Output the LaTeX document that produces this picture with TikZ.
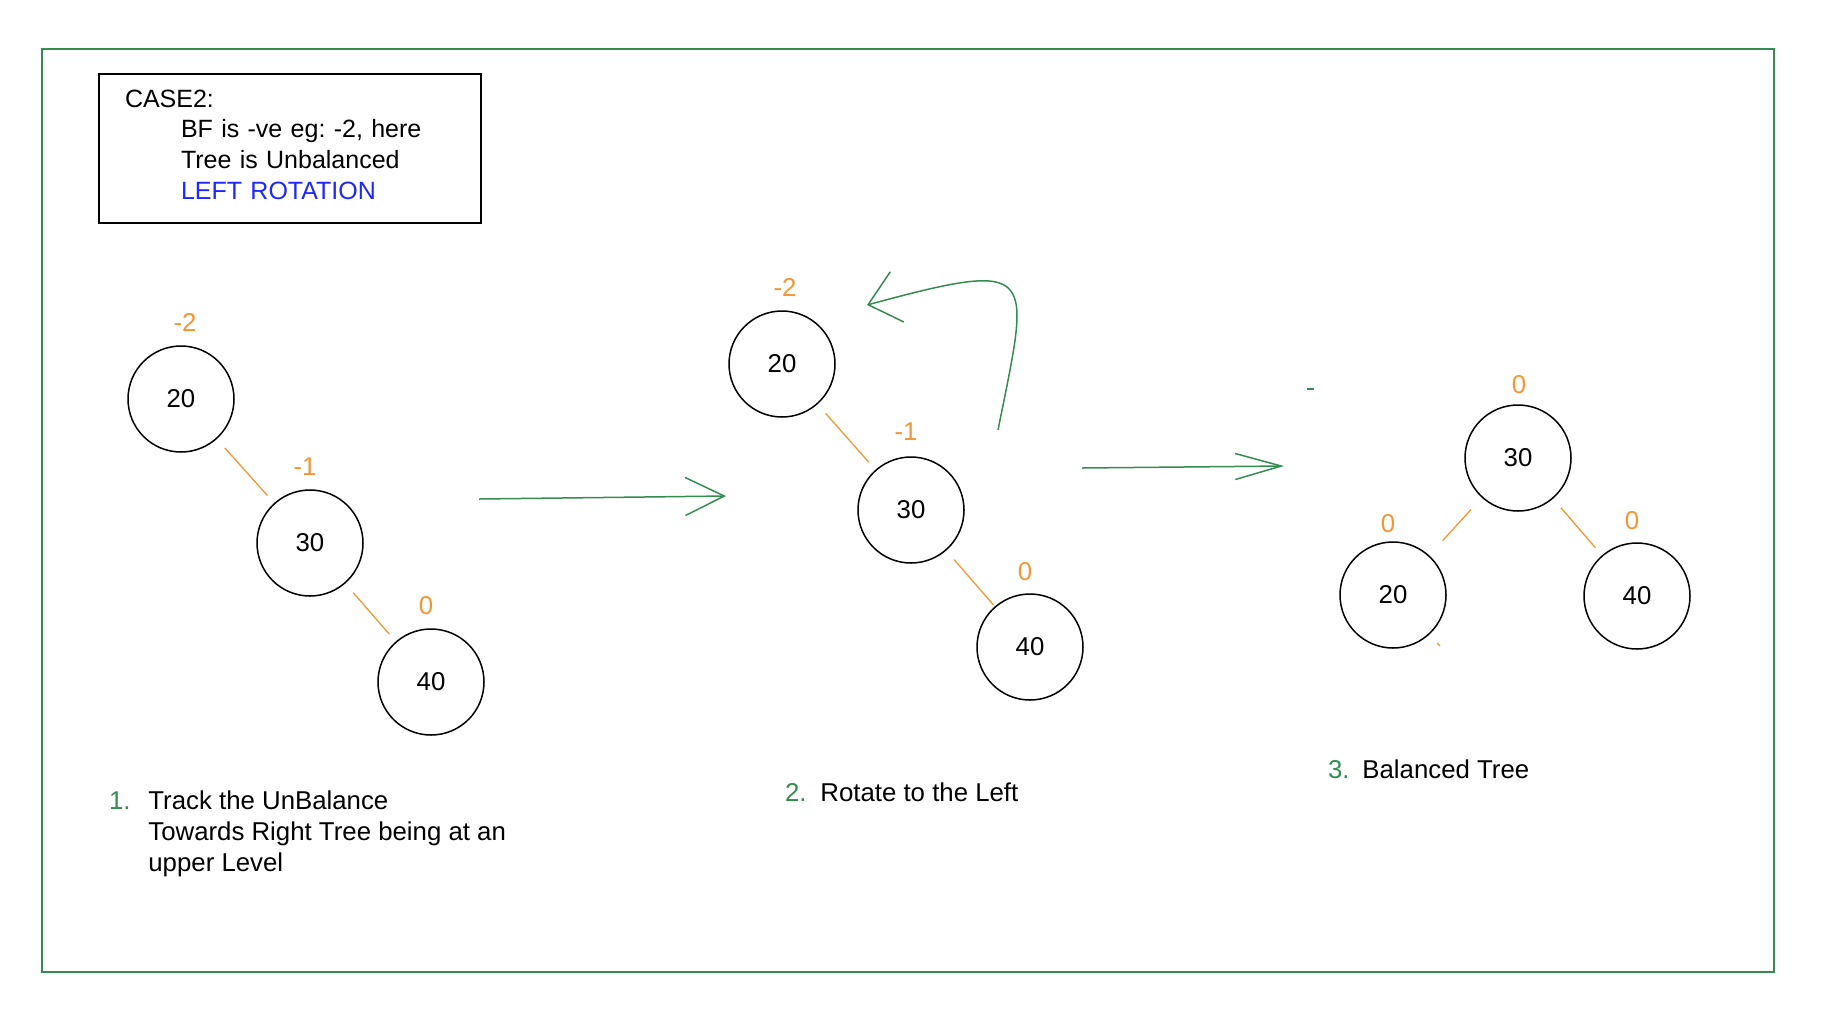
\documentclass[tikz,border=0pt]{standalone}
\usepackage{fontspec}
\setmainfont{Liberation Sans}
\usetikzlibrary{positioning,arrows.meta}
\definecolor{rotgreen}{RGB}{52,140,80}
\definecolor{bforange}{RGB}{245,150,50}
\definecolor{noteblue}{RGB}{30,40,250}
\frenchspacing

\begin{document}
\begin{tikzpicture}[
	x=0.5pt, y=-0.5pt, on grid,
	every node/.style={font=\fontsize{12.9}{15.5}\selectfont},
	avl/.style={draw, circle, line width=0.75pt, minimum size=53pt, inner sep=0pt},
	bf/.style={text=bforange, xshift=-2.5pt},
	branch/.style={draw=bforange, line width=0.65pt, shorten <=6pt, shorten >=5pt},
	casebox/.style={draw, line width=1pt, anchor=north west, minimum width=191pt,
		minimum height=74.5pt, text width=165pt, inner xsep=13pt, align=left,
		font=\fontsize{12.5}{15.4}\selectfont},
	stepnum/.style={text=rotgreen, anchor=base east, inner sep=0pt},
	caption/.style={align=left, anchor=base west, inner sep=0pt},
	move/.style={draw=rotgreen, line width=0.75pt}
	]
\useasboundingbox (0,0) rectangle (1836,1018);
\draw[rotgreen, line width=0.6pt] (42,49) rectangle (1774,972);

\node[casebox] (case) at (98,73) {CASE2:\\
	\hspace*{28pt}BF is -ve eg: -2, here\\
	\hspace*{28pt}Tree is Unbalanced\\
	\hspace*{28pt}\textcolor{noteblue}{LEFT ROTATION}\rule[-4pt]{0pt}{0pt}};

\node[avl] (t1top) at (181,399) {20};
\node[avl, below right=72pt and 64.5pt of t1top] (t1mid) {30};
\node[avl, below right=69.5pt and 60.5pt of t1mid] (t1low) {40};
\node[bf, above=38.5pt of t1top, xshift=4.5pt] (bf1top) {-2};
\node[bf, above=38pt of t1mid] (bf1mid) {-1};
\node[bf, above=38pt of t1low] (bf1low) {0};
\draw[branch] (t1top) -- (t1mid);
\draw[branch] (t1mid) -- (t1low);

\node[avl] (t2top) at (782,364) {20};
\node[avl, below right=73pt and 64.5pt of t2top] (t2mid) {30};
\node[avl, below right=68.5pt and 59.5pt of t2mid] (t2low) {40};
\node[bf, above=38.5pt of t2top, xshift=4pt] (bf2top) {-2};
\node[bf, above=39pt of t2mid] (bf2mid) {-1};
\node[bf, above=37.5pt of t2low] (bf2low) {0};
\draw[branch] (t2top) -- (t2mid);
\draw[branch, shorten >=1pt] (t2mid) -- (t2low);

\node[avl] (t3top) at (1518,458) {30};
\node[avl, below left=68.5pt and 62.5pt of t3top] (t3left) {20};
\node[avl, below right=69pt and 59.5pt of t3top] (t3right) {40};
\node[bf, above=36.5pt of t3top, xshift=3pt] (bf3top) {0};
\node[bf, above=35.5pt of t3left] (bf3left) {0};
\node[bf, above=37.5pt of t3right] (bf3right) {0};
\draw[branch, shorten <=8pt, shorten >=10pt] (t3top) -- (t3left);
\draw[branch] (t3top) -- (t3right);
\draw[rotgreen, line width=1pt] (1307,389) -- (1314,389);
\draw[bforange, line width=0.6pt] (1437,643) -- (1440,646);

\coordinate (push1) at (479,499);
\coordinate (land1) at (726,496);
\draw[move, -{Straight Barb[length=19.5pt, width=19pt]}] (push1) -- (land1);
\coordinate (push2) at (1082,468);
\coordinate (land2) at (1284,466);
\draw[move, -{Straight Barb[length=23pt, width=13pt]}] (push2) -- (land2);
\coordinate (spin) at (998,430);
\coordinate (spintip) at (867,305);
\draw[move, -{Straight Barb[length=15pt, width=26pt]}] (spin) .. controls (1030,270) and (1041,258) .. (spintip);

\node[stepnum] (num1) at (131,809) {1.};
\node[caption] (cap1) at (148,871) {Track the UnBalance\\Towards Right Tree being at an\\upper Level};
\node[stepnum] (num2) at (807,801) {2.};
\node[caption] (cap2) at (820,801) {Rotate to the Left};
\node[stepnum] (num3) at (1350,778) {3.};
\node[caption] (cap3) at (1362,778) {Balanced Tree};
\end{tikzpicture}
\end{document}
